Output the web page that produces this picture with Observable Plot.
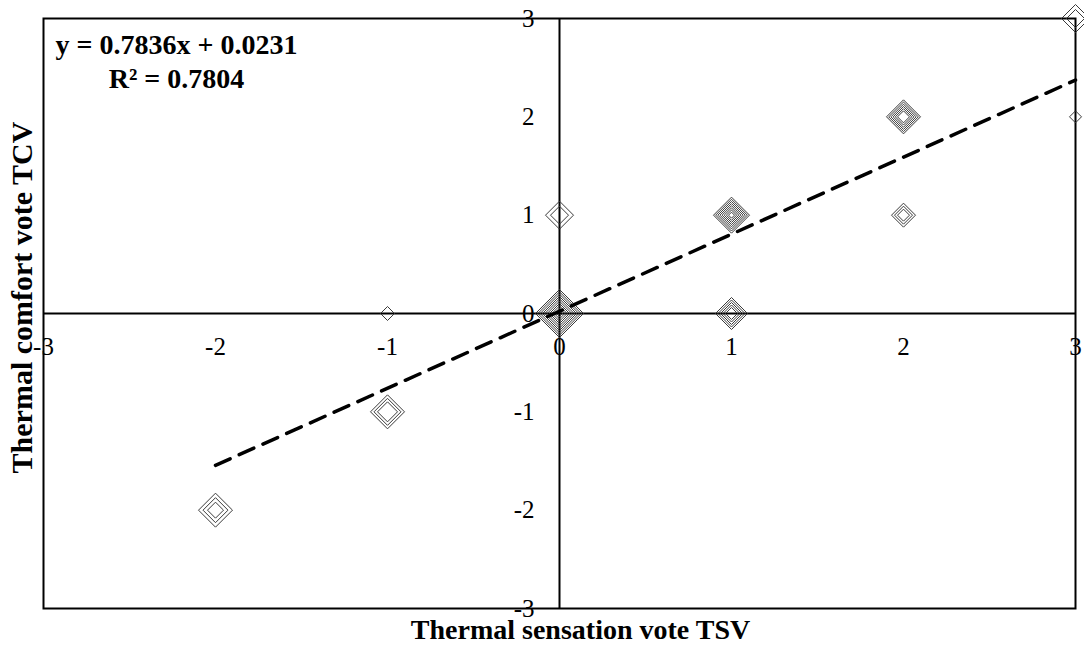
<!DOCTYPE html>
<html>
<head>
<meta charset="utf-8">
<script src="https://cdn.jsdelivr.net/npm/d3@7"></script>
<script src="https://cdn.jsdelivr.net/npm/@observablehq/plot@0.6"></script>
<style>
  html, body { margin: 0; padding: 0; background: #fff; }
  #chart svg { display: block; overflow: visible; }
</style>
</head>
<body>
<div id="chart"></div>
<script>
// ---- data ----
const tsv   = [-2, -1, -1, 0, 0, 1, 1, 2, 2, 3, 3];
const tcv   = [-2, -1,  0, 0, 1, 0, 1, 1, 2, 2, 3];
const rings = [ 3,  3,  1, 10, 2, 5, 8, 3, 6, 1, 2];   // number of overlapping markers
const slope = 0.7836, intercept = 0.0231, r2 = 0.7804;
const trendX = [-2, 3];
const xTicks = [-3, -2, -1, 0, 1, 2, 3];
const yTicks = [-3, -2, -1, 0, 1, 2, 3];

// ---- styling (marker half-diagonals, px) ----
const outerHalf = [17, 17, 7, 24, 14, 16, 18, 12, 17, 6, 14];
const innerHalf = [ 8, 10, 7,  3,  9,  6,  3,  6,  6, 6,  9];

const markers = tsv.flatMap((x, i) => {
  const n = rings[i];
  return d3.range(n).map(k => {
    const half = n === 1 ? outerHalf[i] : innerHalf[i] + (outerHalf[i] - innerHalf[i]) * k / (n - 1);
    return {x, y: tcv[i], r: half / 1.11};
  });
});
const trend = trendX.map(x => ({x, y: slope * x + intercept}));

const font = "'Liberation Serif', 'Times New Roman', serif";

const plot = Plot.plot({
  width: 1084,
  height: 646,
  marginTop: 18,
  marginRight: 9,
  marginBottom: 38,
  marginLeft: 43,
  style: {fontFamily: font, background: "#fff", color: "#000"},
  x: {domain: [-3, 3], axis: null},
  y: {domain: [-3, 3], axis: null},
  r: {type: "identity"},
  marks: [
    Plot.ruleX([0], {stroke: "#000", strokeWidth: 2}),
    Plot.ruleY([0], {stroke: "#000", strokeWidth: 2}),
    Plot.frame({stroke: "#000", strokeWidth: 2}),
    Plot.dot(markers, {x: "x", y: "y", r: "r", symbol: "diamond2", stroke: "#3a3a3a", strokeWidth: 1, fill: "none"}),
    Plot.line(trend, {x: "x", y: "y", stroke: "#000", strokeWidth: 3.5, strokeDasharray: "16,10"}),
    Plot.text(xTicks, {x: d => d, y: 0, text: d => String(d), dy: 33, fontSize: 25, fill: "#000", lineAnchor: "middle"}),
    Plot.text(yTicks, {x: 0, y: d => d, text: d => String(d), dx: -25, textAnchor: "end", fontSize: 25, fill: "#000", lineAnchor: "middle"}),
    Plot.text([`y = ${slope}x + ${intercept}`], {frameAnchor: "top-left", dx: 133, dy: 27, textAnchor: "middle", lineAnchor: "middle", fontSize: 28, fontWeight: "bold", fill: "#000"}),
    Plot.text([`R² = ${r2}`], {frameAnchor: "top-left", dx: 133, dy: 61, textAnchor: "middle", lineAnchor: "middle", fontSize: 28, fontWeight: "bold", fill: "#000"}),
    Plot.text(["Thermal sensation vote TSV"], {frameAnchor: "bottom", dx: 21, dy: 22, lineAnchor: "middle", fontSize: 28, fontWeight: "bold", fill: "#000"}),
    Plot.text(["Thermal comfort vote TCV"], {frameAnchor: "left", dx: -21, dy: -16, rotate: -90, textAnchor: "middle", lineAnchor: "middle", fontSize: 30, fontWeight: "bold", fill: "#000"})
  ]
});
document.getElementById("chart").appendChild(plot);
</script>
</body>
</html>
